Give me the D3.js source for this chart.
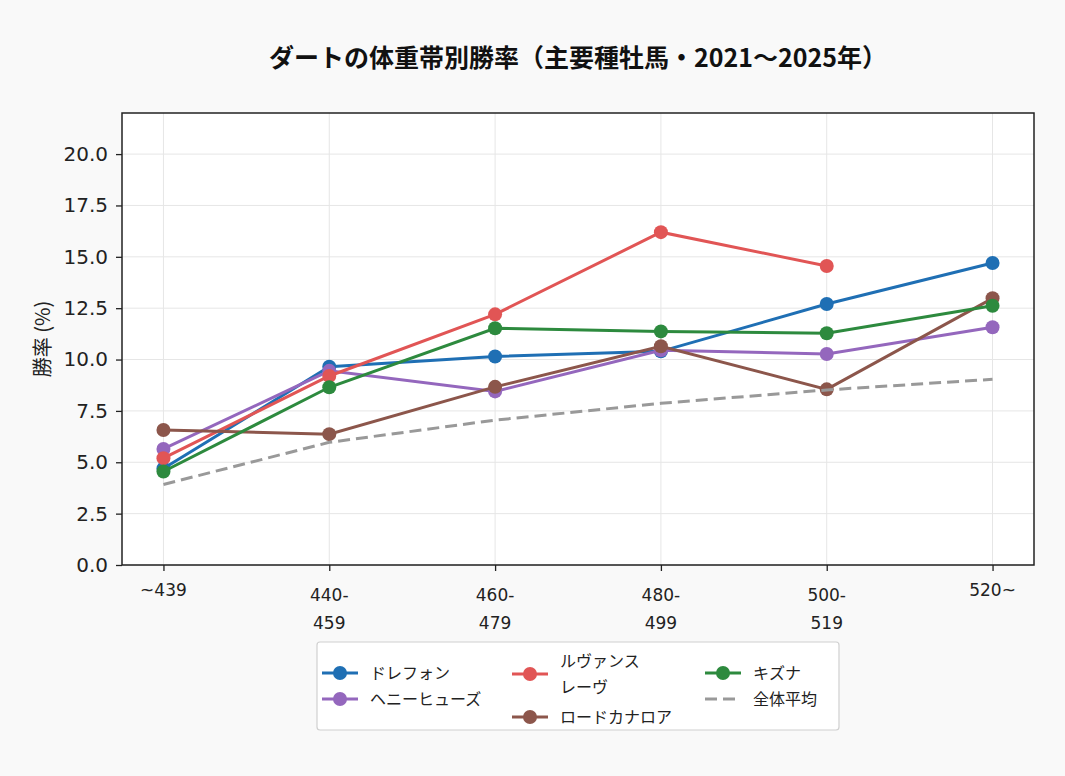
<!DOCTYPE html>
<html>
<head>
<meta charset="utf-8">
<script src="https://cdn.jsdelivr.net/npm/d3@7"></script>
<style>
  body { margin: 0; background: #f9f9f9; }
  svg { display: block; font-family: "Noto Sans CJK JP", "Noto Sans", sans-serif; }
</style>
</head>
<body>
<div id="chart"></div>
<script>
// categories (weight bands) and series values
const categories = ["~439", "440-\n459", "460-\n479", "480-\n499", "500-\n519", "520~"];
const sireNames = ["ドレフォン", "ヘニーヒューズ", "ルヴァンス\nレーヴ", "ロードカナロア", "キズナ"];
const drefong = [4.7, 9.65, 10.15, 10.4, 12.7, 14.7];
const henny = [5.65, 9.45, 8.45, 10.45, 10.27, 11.57];
const ruvans = [5.2, 9.2, 12.2, 16.2, 14.55, null];
const lordKanaloa = [6.57, 6.37, 8.67, 10.65, 8.55, 12.98];
const kizuna = [4.55, 8.65, 11.52, 11.37, 11.28, 12.62];
const overallAvg = [3.92, 5.97, 7.05, 7.87, 8.52, 9.04];
const yTicks = [0, 2.5, 5, 7.5, 10, 12.5, 15, 17.5, 20];

const colors = ["#1f6fb4", "#9467bd", "#e15555", "#8c564b", "#2d8a3e"];
const seriesValues = [drefong, henny, ruvans, lordKanaloa, kizuna];

const W = 1065, H = 776;
const margin = {top: 113, right: 31, bottom: 211, left: 122};
const width = W - margin.left - margin.right,
      height = H - margin.top - margin.bottom;

const svg = d3.select("#chart").append("svg")
    .attr("width", W)
    .attr("height", H);

svg.append("rect").attr("width", W).attr("height", H).attr("fill", "#f9f9f9");

// title
svg.append("text")
    .attr("x", margin.left + width / 2)
    .attr("y", 67)
    .attr("text-anchor", "middle")
    .attr("font-size", 25)
    .attr("font-weight", "bold")
    .attr("fill", "#111")
    .text("ダートの体重帯別勝率（主要種牡馬・2021〜2025年）");

const g = svg.append("g")
    .attr("transform", "translate(" + margin.left + "," + margin.top + ")");

g.append("rect").attr("width", width).attr("height", height).attr("fill", "#fff");

const x = d3.scaleLinear().domain([-0.25, categories.length - 0.75]).range([0, width]);
const y = d3.scaleLinear().domain([0, 22]).range([height, 0]);

// grid
g.append("g").selectAll("line.gy").data(yTicks).enter().append("line")
    .attr("x1", 0).attr("x2", width)
    .attr("y1", d => y(d)).attr("y2", d => y(d))
    .attr("stroke", "#e6e6e6").attr("stroke-width", 1);
g.append("g").selectAll("line.gx").data(categories).enter().append("line")
    .attr("x1", (d, i) => x(i)).attr("x2", (d, i) => x(i))
    .attr("y1", 0).attr("y2", height)
    .attr("stroke", "#e6e6e6").attr("stroke-width", 1);

// axes
const yAxis = g.append("g")
    .call(d3.axisLeft(y).tickValues(yTicks).tickFormat(d3.format(".1f")).tickSize(6).tickPadding(8));
yAxis.select(".domain").remove();
yAxis.selectAll("line").attr("stroke", "#222").attr("stroke-width", 1.3);
yAxis.selectAll("text")
    .attr("fill", "#222")
    .style("font-size", "20px")
    .style("font-family", "'DejaVu Sans', sans-serif");

const xAxis = g.append("g")
    .attr("transform", "translate(0," + height + ")")
    .call(d3.axisBottom(x).tickValues(d3.range(categories.length)).tickFormat("").tickSize(6));
xAxis.select(".domain").remove();
xAxis.selectAll("line").attr("stroke", "#222").attr("stroke-width", 1.3);

const xLabels = g.append("g").selectAll("text").data(categories).enter().append("text")
    .attr("x", (d, i) => x(i))
    .attr("y", height + 31)
    .attr("text-anchor", "middle")
    .attr("fill", "#222")
    .style("font-size", "17px")
    .style("font-family", "'DejaVu Sans', sans-serif");
xLabels.each(function(d) {
  const parts = d.split("\n");
  parts.forEach((p, k) => {
    d3.select(this).append("tspan")
      .attr("x", d3.select(this).attr("x"))
      .attr("dy", k === 0 ? (parts.length > 1 ? 5 : 0) : 28)
      .text(p);
  });
});

// frame
g.append("rect").attr("width", width).attr("height", height)
    .attr("fill", "none").attr("stroke", "#222").attr("stroke-width", 1.5);

// y label
svg.append("text")
    .attr("transform", "translate(50," + (margin.top + height / 2) + ") rotate(-90)")
    .attr("text-anchor", "middle")
    .attr("font-size", 20)
    .attr("fill", "#222")
    .text("勝率 (%)");

const line = d3.line()
    .defined(d => d != null)
    .x((d, i) => x(i))
    .y(d => y(d));

seriesValues.forEach((vals, si) => {
  const sg = g.append("g");
  sg.append("path")
      .datum(vals)
      .attr("d", line)
      .attr("fill", "none")
      .attr("stroke", colors[si])
      .attr("stroke-width", 3);
  sg.selectAll("circle")
      .data(vals.map((v, i) => ({v: v, i: i})).filter(d => d.v != null))
      .enter().append("circle")
      .attr("cx", d => x(d.i))
      .attr("cy", d => y(d.v))
      .attr("r", 7)
      .attr("fill", colors[si]);
});

// overall average, dashed
g.append("path")
    .datum(overallAvg)
    .attr("d", line)
    .attr("fill", "none")
    .attr("stroke", "#999")
    .attr("stroke-width", 3)
    .attr("stroke-dasharray", "12,6");

// legend
const legend = svg.append("g");
legend.append("rect")
    .attr("x", 317).attr("y", 642).attr("width", 522).attr("height", 88)
    .attr("rx", 3)
    .attr("fill", "#fff").attr("stroke", "#d0d0d0").attr("stroke-width", 1.2);

const legendItems = [
  {name: sireNames[0], color: colors[0], col: 0, cy: 673},
  {name: sireNames[1], color: colors[1], col: 0, cy: 699},
  {name: sireNames[2], color: colors[2], col: 1, cy: 674},
  {name: sireNames[3], color: colors[3], col: 1, cy: 717},
  {name: sireNames[4], color: colors[4], col: 2, cy: 673},
  {name: "全体平均", color: "#999", col: 2, cy: 699, dashed: true}
];
const colX = [322, 512, 705];

legendItems.forEach(it => {
  const lx = colX[it.col];
  legend.append("line")
      .attr("x1", lx).attr("x2", lx + 36)
      .attr("y1", it.cy).attr("y2", it.cy)
      .attr("stroke", it.color).attr("stroke-width", 3)
      .attr("stroke-dasharray", it.dashed ? "12,6" : null);
  if (!it.dashed) {
    legend.append("circle").attr("cx", lx + 18).attr("cy", it.cy).attr("r", 7).attr("fill", it.color);
  }
  const parts = it.name.split("\n");
  const t = legend.append("text")
      .attr("x", lx + 48)
      .attr("font-size", 16)
      .attr("fill", "#222");
  parts.forEach((p, k) => {
    t.append("tspan")
      .attr("x", lx + 48)
      .attr("y", it.cy + 5.5 + (parts.length > 1 ? (k === 0 ? -13 : 13) : 0))
      .text(p);
  });
});
</script>
</body>
</html>
